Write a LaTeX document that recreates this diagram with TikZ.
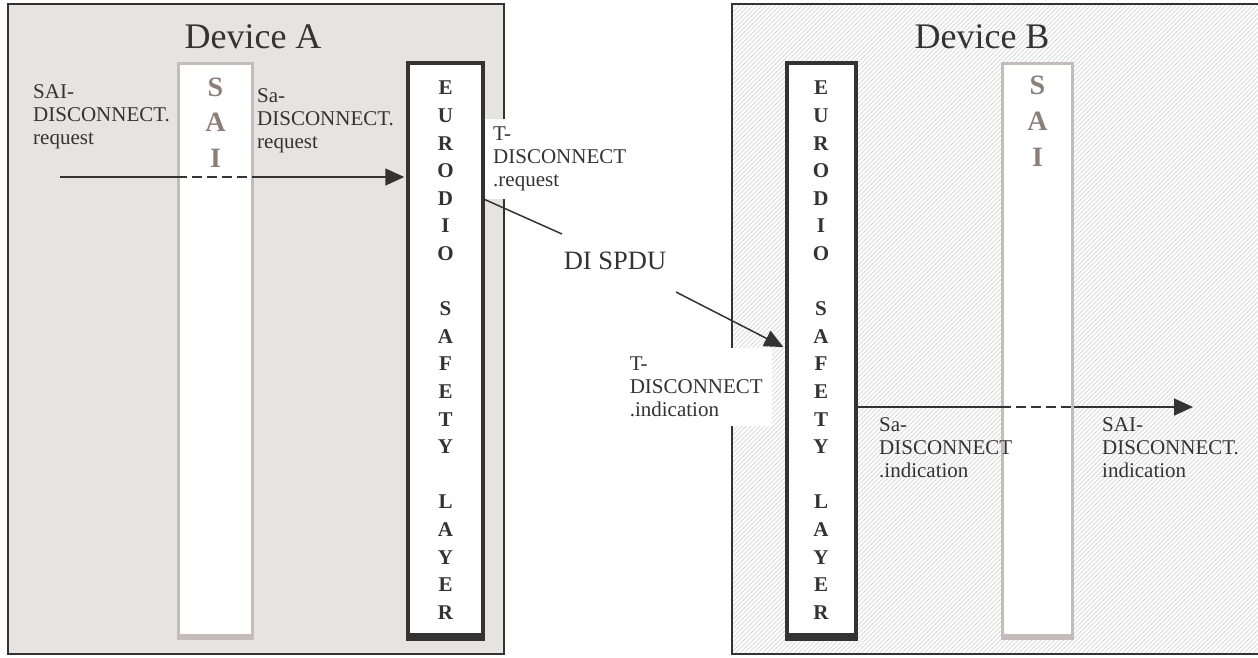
\documentclass[tikz,border=0pt]{standalone}
\usepackage{fontspec}
\setmainfont{Liberation Serif}
\usetikzlibrary{arrows.meta}
\usetikzlibrary{positioning}

\definecolor{devgrey}{HTML}{E7E3E0}
\definecolor{ink}{HTML}{333333}
\definecolor{saiedge}{HTML}{C4BCB9}
\definecolor{saitext}{HTML}{8C7F7A}
\definecolor{hatch}{HTML}{DCDCDC}

\begin{document}
\begin{tikzpicture}[x=1pt,y=-1pt,
  every node/.style={text=ink},
  device/.style={draw=ink,line width=1.5pt},
  eurobox/.style={draw=ink,line width=3.5pt,fill=white,minimum height=572pt,inner sep=0pt},
  saibox/.style={draw=saiedge,line width=3pt,fill=white,minimum height=572pt,inner sep=0pt},
  euroletter/.style={font=\fontsize{21}{21}\selectfont\bfseries,text=ink,inner sep=0pt},
  sailetter/.style={font=\fontsize{28}{28}\selectfont\bfseries,text=saitext,inner sep=0pt},
  prim/.style={font=\fontsize{21}{23}\selectfont,align=left,inner sep=0pt},
  flow/.style={draw=ink,line width=1.5pt},
  tip/.style={-{Triangle[length=19pt,width=17pt]}},
  cut/.style={dash pattern=on 10pt off 5pt}]

  \useasboundingbox (0,0) rectangle (1258,657);

  % device A: grey, device B: hatched
  \fill[devgrey] (8,4) rectangle (504,654);
  \begin{scope}
    \clip (732,4) rectangle (1258,654);
    \fill[white] (732,4) rectangle (1258,654);
    \foreach \x in {70,74.5,...,1260}
      \draw[hatch,line width=1pt] (\x,657) -- ++(657,-657);
  \end{scope}
  \draw[device] (8,4) rectangle (504,654);
  \draw[device] (732,4) rectangle (1262,654);

  \node[font=\fontsize{36}{36}\selectfont] (devA) at (253,37) {Device A};
  \node[font=\fontsize{36}{36}\selectfont] (devB) at (982,37) {Device B};

  % layers
  \node[saibox,minimum width=74pt] (saiA) at (215.5,349) {};
  \node[eurobox,minimum width=75pt] (euroA) at (445.5,349) {};
  \node[eurobox,minimum width=69pt] (euroB) at (821.5,349) {};
  \node[saibox,minimum width=70pt] (saiB) at (1037.5,349) {};

  \draw[saiedge,line width=3pt] ([yshift=-2pt]saiA.south west) -- ([yshift=-2pt]saiA.south east);
  \draw[saiedge,line width=3pt] ([yshift=-2pt]saiB.south west) -- ([yshift=-2pt]saiB.south east);
  \draw[ink,line width=3.5pt] ([yshift=-2pt]euroA.south west) -- ([yshift=-2pt]euroA.south east);
  \draw[ink,line width=3.5pt] ([yshift=-2pt]euroB.south west) -- ([yshift=-2pt]euroB.south east);

  \foreach \ch [count=\i from 0] in {E,U,R,O,D,I,O,,S,A,F,E,T,Y,,L,A,Y,E,R} {
    \node[euroletter] (eA\i) at (445.5,88+27.6*\i) {\ch};
    \node[euroletter] (eB\i) at (821,88+27.6*\i) {\ch};
  }
  \foreach \ch [count=\i from 0] in {S,A,I} {
    \node[sailetter] (sA\i) at (215.5,87+35.5*\i) {\ch};
    \node[sailetter] (sB\i) at (1037.5,85+36*\i) {\ch};
  }

  % primitives
  \node[prim,anchor=north west] (saiReq) at (33,84) {SAI-\\DISCONNECT.\\request};
  \node[prim,anchor=north west] (saReq) at (257,88) {Sa-\\DISCONNECT.\\request};
  \node[prim,anchor=north west,fill=white,inner sep=8pt] (tReq) at (485,119) {T-\\DISCONNECT\\.request};
  \node[prim,anchor=north east,fill=white,inner sep=9pt] (tInd) at (772,348) {T-\\DISCONNECT\\.indication};
  \node[prim,anchor=north west] (saInd) at (879,417) {Sa-\\DISCONNECT\\.indication};
  \node[prim,anchor=north west] (saiInd) at (1102,417) {SAI-\\DISCONNECT.\\indication};
  \node[font=\fontsize{26.5}{26.5}\selectfont] (spdu) at (615,261) {DI SPDU};

  % request in device A
  \coordinate (reqIn) at (60,177);
  \draw[flow] (reqIn) -- (reqIn -| saiA.west);
  \draw[flow,cut] (reqIn -| saiA.west) -- (reqIn -| saiA.east);
  \draw[flow,tip,shorten >=2pt] (reqIn -| saiA.east) -- (reqIn -| euroA.west);

  % SPDU between devices
  \coordinate (spduIn) at (562,234);
  \coordinate (spduOut) at (676,292);
  \draw[flow] (tReq.south west) -- (spduIn);
  \draw[flow,tip,shorten >=2pt] (spduOut) -- (euroB.west |- tInd.north);

  % indication in device B
  \coordinate (indOut) at (1193,407);
  \draw[flow] (indOut -| euroB.east) -- (indOut -| saiB.west);
  \draw[flow,cut] (indOut -| saiB.west) -- (indOut -| saiB.east);
  \draw[flow,tip] (indOut -| saiB.east) -- (indOut);
\end{tikzpicture}
\end{document}
